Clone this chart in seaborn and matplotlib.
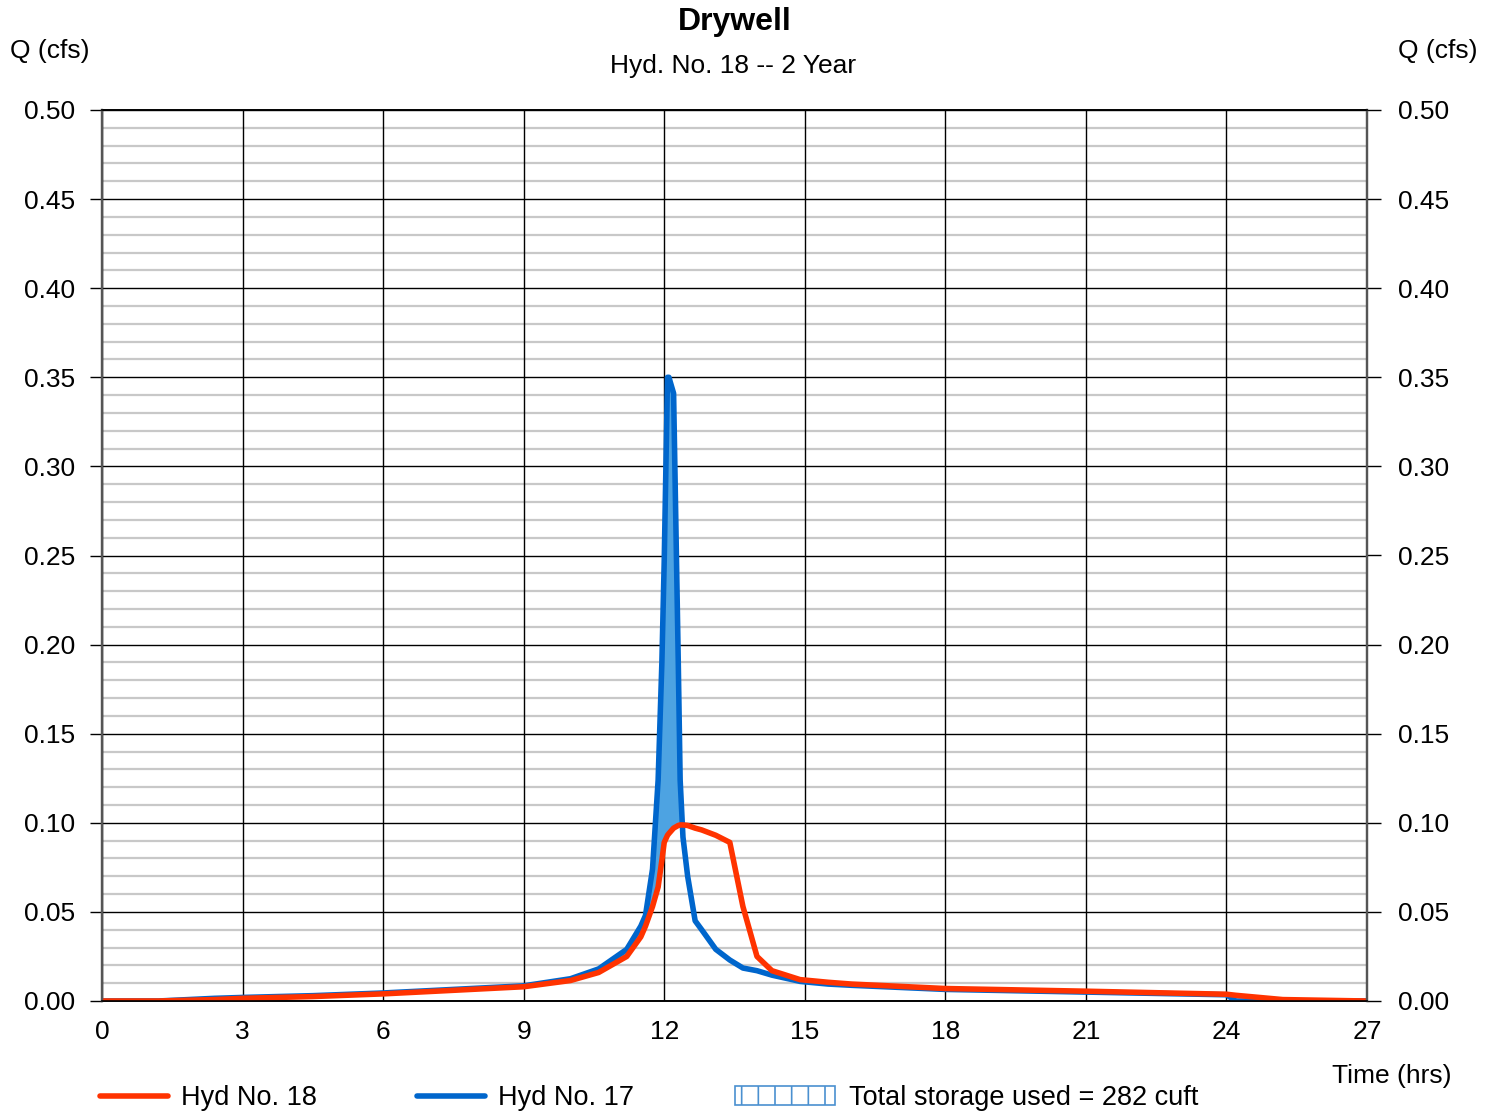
import numpy as np
import pandas as pd
import matplotlib
matplotlib.use("Agg")
import matplotlib.pyplot as plt
from matplotlib.lines import Line2D
from matplotlib.patches import Patch
import seaborn as sns

time_hrs = [0, 1.2, 2.4, 3, 4.5, 6, 7.5, 9, 10, 10.6, 11.2, 11.5, 11.6, 11.75,
            11.87, 11.95, 12.0, 12.07, 12.1, 12.2, 12.3, 12.34, 12.4, 12.5,
            12.66, 12.8, 13.1, 13.4, 13.68, 13.98, 14.3, 14.9, 15.5, 16, 18,
            21, 24, 24.2, 25.2, 27]
q_hyd17 = [0, 0, 0.0015, 0.002, 0.003, 0.0045, 0.0065, 0.0085, 0.0125, 0.018,
           0.029, 0.042, 0.048, 0.074, 0.124, 0.19, 0.247, 0.35, 0.35, 0.341,
           0.19, 0.124, 0.092, 0.07, 0.045, 0.04, 0.029, 0.023, 0.0185, 0.017,
           0.0145, 0.011, 0.0095, 0.0088, 0.0065, 0.005, 0.0035, 0.0, 0.0, 0.0]
q_hyd18 = [0, 0, 0.0008, 0.0015, 0.0025, 0.004, 0.006, 0.008, 0.0115, 0.016,
           0.025, 0.036, 0.042, 0.053, 0.064, 0.079, 0.089, 0.093, 0.094, 0.097,
           0.0985, 0.0988, 0.0988, 0.0985, 0.097, 0.096, 0.093, 0.089, 0.053,
           0.025, 0.017, 0.012, 0.0105, 0.0095, 0.007, 0.0055, 0.0038, 0.0032,
           0.0008, 0.0]

title = "Drywell"
subtitle = "Hyd. No. 18 -- 2 Year"
label_18 = "Hyd No. 18"
label_17 = "Hyd No. 17"
label_storage = "Total storage used = 282 cuft"

RED = "#ff3300"
BLUE = "#0066cc"
FILL = "#4da3e2"

sns.set_theme(style="white")
plt.rcParams["font.family"] = ["Liberation Sans", "DejaVu Sans"]
for key in ["text.color", "axes.labelcolor", "xtick.color", "ytick.color"]:
    plt.rcParams[key] = "black"
plt.rcParams["hatch.linewidth"] = 1.2

df = pd.DataFrame({"t": time_hrs, "q17": q_hyd17, "q18": q_hyd18})

fig = plt.figure(figsize=(14.96, 11.12), dpi=100)
ax = fig.add_axes([102 / 1496, 111 / 1112, 1265 / 1496, 891 / 1112])

# storage area between inflow and outflow
t = df["t"].to_numpy()
ax.fill_between(t, df["q18"], df["q17"], where=df["q17"] > df["q18"],
                interpolate=True, facecolor=FILL, edgecolor="none", zorder=2)

sns.lineplot(data=df, x="t", y="q17", color=BLUE, lw=4.0, ax=ax, zorder=3,
             solid_capstyle="round", solid_joinstyle="round")
sns.lineplot(data=df, x="t", y="q18", color=RED, lw=4.0, ax=ax, zorder=4,
             solid_capstyle="round", solid_joinstyle="round")

yticks = np.arange(0, 0.501, 0.05)
ax.set_xlim(0, 27)
ax.set_ylim(0, 0.5)
ax.set_xticks(np.arange(0, 28, 3))
ax.set_yticks(yticks)
ax.set_yticks(np.arange(0, 0.501, 0.01), minor=True)
ax.yaxis.set_major_formatter(matplotlib.ticker.FormatStrFormatter("%.2f"))

ax.grid(which="major", axis="both", color="black", lw=1.0)
ax.grid(which="minor", axis="y", color="#c8c8c8", lw=1.6)
ax.set_axisbelow(True)
# vertical grid lines sit over the grey horizontal ones
ax.yaxis.set_zorder(0.4)
ax.xaxis.set_zorder(0.6)
ax.set_xlabel("")
ax.set_ylabel("")

# right-hand copy of the Q axis
ax2 = ax.twinx()
ax2.set_ylim(0, 0.5)
ax2.set_yticks(yticks)
ax2.yaxis.set_major_formatter(matplotlib.ticker.FormatStrFormatter("%.2f"))
ax2.tick_params(axis="y", which="major", right=True, length=10, width=1.0,
                color="black", labelsize=19, pad=12)
ax2.tick_params(axis="y", which="minor", right=False, left=False)
ax2.grid(False)

ax.tick_params(axis="y", which="major", left=True, right=False,
               length=8.6, width=1.0, color="black", labelsize=19, pad=10.8)
ax.tick_params(axis="y", which="minor", left=False, right=False)
ax.tick_params(axis="x", length=0, labelsize=19, pad=14)

for a in (ax, ax2):
    for side in ["left", "right"]:
        a.spines[side].set_color("#555555")
        a.spines[side].set_linewidth(1.6)
    for side in ["top", "bottom"]:
        a.spines[side].set_color("black")
        a.spines[side].set_linewidth(1.2)

fig.text(735 / 1496, 1 - 22 / 1112, title, ha="center", va="center",
         fontsize=23, fontweight="bold")
fig.text(733 / 1496, 1 - 66 / 1112, subtitle, ha="center", va="center", fontsize=19)
fig.text(10 / 1496, 1 - 51 / 1112, "Q (cfs)", ha="left", va="center", fontsize=19)
fig.text(1478 / 1496, 1 - 51 / 1112, "Q (cfs)", ha="right", va="center", fontsize=19)
fig.text(1452 / 1496, 1 - 1076 / 1112, "Time (hrs)", ha="right", va="center", fontsize=19)

# legend row at the bottom
h18 = Line2D([], [], color=RED, lw=4.0)
h17 = Line2D([], [], color=BLUE, lw=4.0)
hst = Patch(facecolor="white", edgecolor="#4a90d0", hatch="|", lw=1.2)
for handle, lab, x0, hl in [(h18, label_18, 100, 2.5), (h17, label_17, 417, 2.5),
                            (hst, label_storage, 735, 3.7)]:
    fig.legend([handle], [lab], loc="center left",
               bbox_to_anchor=(x0 / 1496, 1 - 1098 / 1112), frameon=False,
               fontsize=19.5, handlelength=hl, handletextpad=0.5,
               borderpad=0, borderaxespad=0)

fig.savefig("out.png", dpi=100)
